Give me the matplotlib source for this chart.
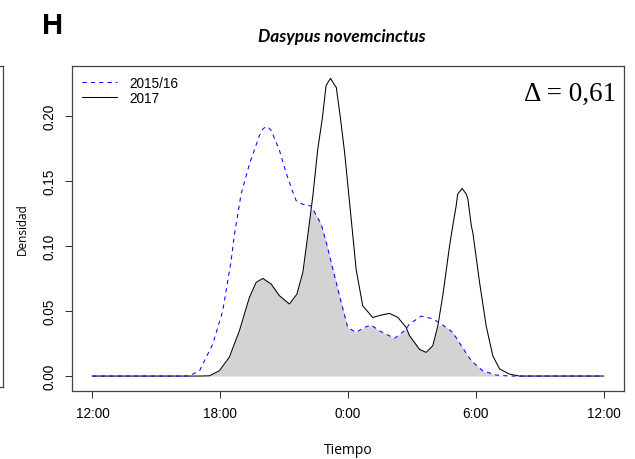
import numpy as np
import matplotlib
matplotlib.use("Agg")
import matplotlib.pyplot as plt
from matplotlib.lines import Line2D

# Kernel density of activity time (hours since 12:00)
hours_2015 = [0, 4.3, 4.56, 5.03, 5.65, 6.12, 6.51, 6.67, 6.98, 7.37, 7.84, 8.0, 8.16,
              8.28, 8.39, 8.78, 9.10, 9.41, 9.57, 9.88, 10.27, 10.74, 10.98, 11.29,
              11.68, 11.99, 12.38, 12.77, 13.09, 13.48, 14.18, 14.65, 14.89, 15.44,
              15.98, 16.45, 16.92, 17.32, 17.79, 18.33, 18.96, 19.6, 24]
dens_2015 = [0, 0, 0.0002, 0.0041, 0.0246, 0.0502, 0.0887, 0.109, 0.140, 0.163, 0.185,
             0.190, 0.192, 0.1908, 0.189, 0.1737, 0.156, 0.1415, 0.1348, 0.1321,
             0.1308, 0.1169, 0.1028, 0.0823, 0.0567, 0.0374, 0.0336, 0.0374, 0.0392,
             0.0348, 0.0290, 0.0348, 0.0400, 0.0461, 0.0441, 0.0392, 0.0336, 0.0233,
             0.0118, 0.0040, 0.0008, 0, 0]

hours_2017 = [0, 5.0, 5.50, 5.96, 6.43, 6.90, 7.37, 7.69, 8.00, 8.39, 8.78, 9.25,
              9.60, 9.88, 10.11, 10.35, 10.58, 10.79, 10.97, 11.07, 11.18, 11.28,
              11.45, 11.65, 11.84, 12.15, 12.38, 12.69, 13.16, 13.56, 13.95, 14.34,
              14.73, 14.89, 15.36, 15.67, 15.98, 16.22, 16.45, 16.77, 16.92, 17.08,
              17.15, 17.36, 17.55, 17.63, 17.79, 17.86, 18.18, 18.49, 18.80, 19.12,
              19.58, 20.05, 24]
dens_2017 = [0, 0, 0.0002, 0.0041, 0.0146, 0.0348, 0.0605, 0.0721, 0.0751, 0.0708,
             0.0618, 0.0554, 0.063, 0.0798, 0.1079, 0.1387, 0.1746, 0.1977, 0.2233,
             0.2262, 0.229, 0.2262, 0.2220, 0.1977, 0.1721, 0.1208, 0.0823, 0.0541,
             0.0451, 0.0469, 0.0482, 0.0451, 0.0374, 0.0310, 0.0205, 0.0182, 0.0233,
             0.0387, 0.0618, 0.1002, 0.1156, 0.1310, 0.140, 0.1443, 0.140, 0.1362,
             0.1156, 0.1105, 0.0718, 0.0384, 0.0156, 0.0054, 0.0015, 0, 0]

x_ticks = [0, 6, 12, 18, 24]
x_labels = ["12:00", "18:00", "0:00", "6:00", "12:00"]
y_ticks = [0.00, 0.05, 0.10, 0.15, 0.20]
series_labels = ["2015/16", "2017"]
overlap_text = "\u0394 = 0,61"

W, H = 635, 460
fig = plt.figure(figsize=(W / 100, H / 100), dpi=100)
ax = fig.add_axes([72 / W, 1 - 392 / H, (624 - 72) / W, (392 - 67) / H])

# shaded overlap = pointwise minimum of the two densities
grid = np.union1d(hours_2015, hours_2017)
low = np.minimum(np.interp(grid, hours_2015, dens_2015),
                 np.interp(grid, hours_2017, dens_2017))
ax.fill_between(grid, 0, low, color="#d3d3d3", lw=0, zorder=1)

ax.plot(hours_2017, dens_2017, color="black", lw=0.75, zorder=2)
ax.plot(hours_2015, dens_2015, color="blue", lw=0.75, ls=(0, (4, 4)), zorder=3)

ax.set_xlim(-0.96, 24.96)
ax.set_ylim(-0.0115, 0.2385)
ax.set_xticks(x_ticks)
ax.set_xticklabels(x_labels)
ax.set_yticks(y_ticks)
ax.set_yticklabels([f"{v:.2f}" for v in y_ticks], rotation=90, va="center")
for lab in ax.get_xticklabels() + ax.get_yticklabels():
    lab.set_fontfamily("Liberation Sans")
    lab.set_fontsize(9.8)
ax.tick_params(length=5, width=0.75, pad=6, colors="#333333", labelcolor="black")
ax.tick_params(axis="y", pad=6)
for sp in ax.spines.values():
    sp.set_linewidth(0.9)
    sp.set_color("#444444")

ax.set_xlabel("Tiempo", family="Open Sans", fontsize=10, labelpad=16)
ax.set_ylabel("Densidad", family="Open Sans", fontsize=8.5, labelpad=10)

handles = [Line2D([], [], color="blue", lw=0.75, ls=(0, (4, 4))),
           Line2D([], [], color="black", lw=0.75)]
ax.legend(handles, series_labels, loc="upper left", frameon=False,
          prop=dict(family="Liberation Sans", size=9.8), handlelength=2.6,
          handletextpad=0.9, labelspacing=0.1, borderaxespad=0.3,
          bbox_to_anchor=(0.0, 1.0))

ax.text(0.985, 0.915, overlap_text, transform=ax.transAxes, ha="right", va="center",
        family="Liberation Serif", fontsize=19.5)

fig.text(342 / W, 1 - 37 / H, "Dasypus novemcinctus", ha="center", va="center",
         family="Lato", style="italic", weight="bold", fontsize=12.5)
fig.text(42 / W, 1 - 26 / H, "H", ha="left", va="center",
         family="Liberation Sans", weight="bold", fontsize=21)

# edge of the neighbouring panel
fig.add_artist(Line2D([3 / W, 3 / W], [1 - 67 / H, 1 - 388 / H], color="#444444", lw=0.9))
fig.add_artist(Line2D([0, 3 / W], [1 - 67 / H, 1 - 67 / H], color="#444444", lw=0.9))
fig.add_artist(Line2D([0, 3 / W], [1 - 388 / H, 1 - 388 / H], color="#444444", lw=0.9))

fig.savefig("out.png", dpi=100, facecolor="white")
